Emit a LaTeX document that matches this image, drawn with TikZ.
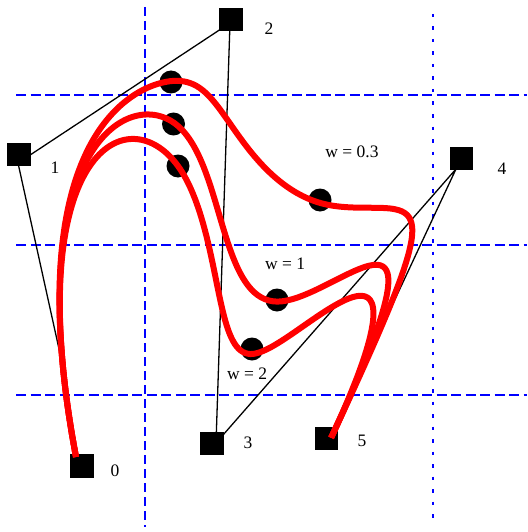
\documentclass[tikz,border=0pt]{standalone}
\usepackage{fontspec}
\setmainfont{Liberation Serif}
\def\bern#1#2#3#4{(#1*(1-\noexpand\s)*(1-\noexpand\s)*(1-\noexpand\s)+3*#2*(1-\noexpand\s)*(1-\noexpand\s)*\noexpand\s+3*#3*(1-\noexpand\s)*\noexpand\s*\noexpand\s+#4*\noexpand\s*\noexpand\s*\noexpand\s)}
\begin{document}
\begin{tikzpicture}[x=1pt,y=-1pt,
  gridline/.style={blue,line width=2.2pt},
  hdash/.style={gridline,dash pattern=on 10pt off 4.5pt},
  vdash/.style={gridline,dash pattern=on 9pt off 5pt},
  vdot/.style={gridline,dash pattern=on 3.5pt off 9pt},
  poly/.style={black,line width=1.3pt},
  box/.style={fill=black,minimum size=23.5pt,inner sep=0pt,outer sep=0pt},
  knot/.style={circle,fill=black,minimum size=23pt,inner sep=0pt},
  curve/.style={red,line width=6pt,line join=round},
  lab/.style={font=\fontsize{17.5}{20}\selectfont,inner sep=0pt}]
\useasboundingbox (0,0) rectangle (527,532);
% grid
\draw[hdash] (16,95) -- (527,95);
\draw[hdash] (16,245) -- (527,245);
\draw[hdash] (16,395) -- (527,395);
\draw[vdash] (145,7) -- (145,527);
\draw[vdot] (433,14) -- (433,522);
% control polygon
\coordinate (v0) at (61,358);
\coordinate (v1) at (18,163);
\coordinate (v2) at (230,23);
\coordinate (v3) at (216,443);
\coordinate (v4) at (456,169);
\coordinate (v5) at (331,436);
\draw[poly] (v0) -- (v1) -- (v2) -- (v3) -- (v4) -- (v5);
% control points
\node[box] (b0) at (82,466) {};
\node[box] (b1) at (19,154.5) {};
\node[box] (b2) at (231,19.5) {};
\node[box] (b3) at (212,443.5) {};
\node[box] (b4) at (461.5,158.5) {};
\node[box] (b5) at (326.5,438.5) {};
% knot points
\node[knot] (k1) at (171,82) {};
\node[knot] (k2) at (173.5,124) {};
\node[knot] (k3) at (178,166) {};
\node[knot] (k4) at (320,200) {};
\node[knot] (k5) at (277,300) {};
\node[knot] (k6) at (252,349) {};
% NURBS curves, weight on control point 3
\foreach \w in {0.3,1,2}{
  \pgfmathsetmacro\ax{19/4+7*231/12+\w*212/6}
  \pgfmathsetmacro\ay{154/4+7*19/12+\w*443/6}
  \pgfmathsetmacro\aw{5/6+\w/6}
  \pgfmathsetmacro\bax{2*231/3+\w*212/3}
  \pgfmathsetmacro\bay{2*19/3+\w*443/3}
  \pgfmathsetmacro\baw{2/3+\w/3}
  \pgfmathsetmacro\bbx{231/3+2*\w*212/3}
  \pgfmathsetmacro\bby{19/3+2*\w*443/3}
  \pgfmathsetmacro\bbw{1/3+2*\w/3}
  \pgfmathsetmacro\cx{231/6+7*\w*212/12+461.5/4}
  \pgfmathsetmacro\cy{19.5/6+7*\w*443.5/12+158.5/4}
  \pgfmathsetmacro\cw{5/12+7*\w/12}
  \pgfmathsetmacro\dx{(\w*212+461.5)/2}
  \pgfmathsetmacro\dy{(\w*443.5+158.5)/2}
  \pgfmathsetmacro\dw{(\w+1)/2}
  \edef\fAx{\bern{76}{19}{125}{\ax}}
  \edef\fAy{\bern{457}{154.5}{87}{\ay}}
  \edef\fAw{\bern{1}{1}{1}{\aw}}
  \edef\fBx{\bern{\ax}{\bax}{\bbx}{\cx}}
  \edef\fBy{\bern{\ay}{\bay}{\bby}{\cy}}
  \edef\fBw{\bern{\aw}{\baw}{\bbw}{\cw}}
  \edef\fCx{\bern{\cx}{\dx}{461.5}{331}}
  \edef\fCy{\bern{\cy}{\dy}{158.5}{438}}
  \edef\fCw{\bern{\cw}{\dw}{1}{1}}
  \draw[curve] plot[variable=\s,domain=0:1,samples=40,smooth] ({\fAx/\fAw},{\fAy/\fAw})
    -- plot[variable=\s,domain=0:1,samples=40,smooth] ({\fBx/\fBw},{\fBy/\fBw})
    -- plot[variable=\s,domain=0:1,samples=40,smooth] ({\fCx/\fCw},{\fCy/\fCw});
}
% labels
\node[lab] (n0) at (115,471) {0};
\node[lab] (n1) at (55,168) {1};
\node[lab] (n2) at (269,29) {2};
\node[lab] (n3) at (248,443) {3};
\node[lab] (n4) at (502,169) {4};
\node[lab] (n5) at (362,441) {5};
\node[lab] (w1) at (352,152) {w = 0.3};
\node[lab] (w2) at (285,264) {w = 1};
\node[lab] (w3) at (247,374) {w = 2};
\end{tikzpicture}
\end{document}
